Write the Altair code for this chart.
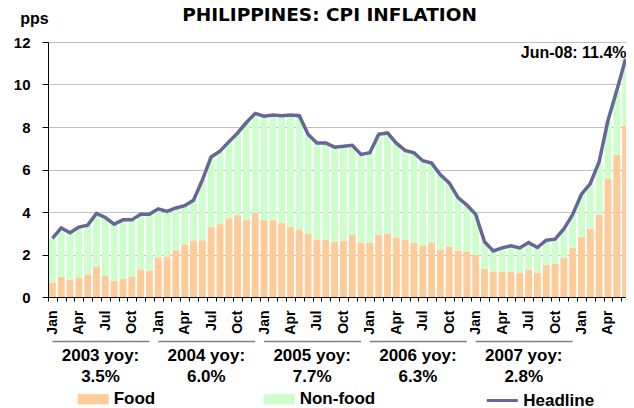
import altair as alt
import pandas as pd

FONT = "Liberation Sans"

month_names = ["Jan", "Feb", "Mar", "Apr", "May", "Jun",
               "Jul", "Aug", "Sep", "Oct", "Nov", "Dec"]
years = ["2003", "2004", "2005", "2006", "2007", "2008"]
months = [f"{m} {y}" for y in years for m in month_names][:66]

# Food contribution (pps), Jan-2003 .. Jun-2008
food = [
    0.68, 0.96, 0.82, 0.92, 1.06, 1.44, 1.01, 0.77, 0.87, 0.96, 1.30, 1.25,
    1.86, 1.91, 2.20, 2.48, 2.67, 2.67, 3.29, 3.43, 3.71, 3.85, 3.62, 3.95,
    3.62, 3.62, 3.48, 3.29, 3.18, 2.99, 2.71, 2.71, 2.61, 2.66, 2.94, 2.57,
    2.57, 2.94, 2.99, 2.80, 2.71, 2.57, 2.43, 2.57, 2.24, 2.38, 2.19, 2.14,
    1.96, 1.34, 1.20, 1.19, 1.19, 1.15, 1.29, 1.15, 1.52, 1.57, 1.85, 2.32,
    2.84, 3.22, 3.87, 5.57, 6.70, 8.06,
]
# Headline CPI inflation (% yoy)
headline = [
    2.76, 3.25, 3.02, 3.29, 3.38, 3.93, 3.74, 3.43, 3.63, 3.63, 3.89, 3.89,
    4.15, 4.03, 4.19, 4.30, 4.55, 5.50, 6.59, 6.86, 7.30, 7.72, 8.21, 8.64,
    8.51, 8.56, 8.53, 8.56, 8.53, 7.65, 7.25, 7.25, 7.05, 7.09, 7.14, 6.71,
    6.79, 7.66, 7.72, 7.24, 6.90, 6.79, 6.41, 6.30, 5.75, 5.37, 4.68, 4.33,
    3.89, 2.60, 2.17, 2.31, 2.41, 2.31, 2.56, 2.33, 2.67, 2.72, 3.20, 3.88,
    4.84, 5.34, 6.36, 8.31, 9.72, 11.20,
]

group_years = ["2003", "2004", "2005", "2006", "2007"]
group_yoy = ["3.5%", "6.0%", "7.7%", "6.3%", "2.8%"]

bar_series = ["Food", "Non-food"]
bar_colors = ["#FFCC99", "#CCFFCC"]
line_series = ["Headline"]
line_colors = ["#666699"]
last_label = "Jun-08: 11.4%"
quarter_months = ["Jan", "Apr", "Jul", "Oct"]
y_ticks = [0, 2, 4, 6, 8, 10, 12]

rows = []
for m, f, h in zip(months, food, headline):
    rows.append({"month": m, "series": "Food", "value": f, "order": 0})
    rows.append({"month": m, "series": "Non-food", "value": round(h - f, 3), "order": 1})
bars_df = pd.DataFrame(rows)
line_df = pd.DataFrame({"month": months, "value": headline, "series": line_series[0]})
groups_df = pd.DataFrame({
    "start": [f"Jan {y}" for y in group_years],
    "end": [f"Dec {y}" for y in group_years],
    "mid": [f"Jun {y}" for y in group_years],
    "head": [f"{y} yoy:" for y in group_years],
    "yoy": group_yoy,
})
ann_df = pd.DataFrame({"month": [months[-1]], "value": [headline[-1]], "label": [last_label]})

PLOT_W = 582
HALF_STEP = PLOT_W / len(months) / 2

x_scale = alt.Scale(type="band", domain=months, paddingInner=0.22, paddingOuter=0.11)
qlist = "[" + ",".join(f"'{q}'" for q in quarter_months) + "]"
x_axis = alt.Axis(
    title=None,
    labelExpr=f"indexof({qlist}, slice(datum.value, 0, 3)) >= 0 ? slice(datum.value, 0, 3) : ''",
    labelAngle=270, labelFont=FONT, labelFontSize=14, labelFontWeight="bold",
    labelColor="black", labelPadding=9, labelOverlap=False,
    tickSize=4, tickColor="black", domainColor="black",
    tickOffset=-HALF_STEP, labelOffset=HALF_STEP,
    grid=False,
)
y_scale = alt.Scale(domain=[0, 12], nice=False)
y_axis = alt.Axis(
    values=y_ticks, title="pps", titleAngle=0, titleAlign="center",
    titleBaseline="alphabetic", titleX=-14, titleY=-19, titleFont=FONT,
    titleFontSize=16, titleFontWeight="bold", titleColor="black",
    labelFont=FONT, labelFontSize=15, labelFontWeight="bold", labelColor="black",
    labelPadding=12, tickSize=6, tickColor="black", domainColor="black",
    grid=True, gridColor="#C0C0C0",
)

X = alt.X("month:N", scale=x_scale, axis=x_axis, sort=months)
Y = alt.Y("value:Q", scale=y_scale, axis=y_axis)

bars = alt.Chart(bars_df).mark_bar(strokeWidth=0).encode(
    x=X,
    y=alt.Y("value:Q", scale=y_scale, axis=y_axis, stack="zero"),
    fill=alt.Fill(
        "series:N",
        scale=alt.Scale(domain=bar_series, range=bar_colors),
        legend=alt.Legend(
            title=None, orient="none", legendX=29.7, legendY=341.5,
            direction="horizontal", symbolType="M-1,-0.33H1V0.33H-1Z",
            symbolSize=961, symbolStrokeWidth=0,
            labelFont=FONT, labelFontSize=17, labelFontWeight="bold",
            labelColor="black", labelOffset=5, columnPadding=108,
        ),
    ),
    order=alt.Order("order:Q"),
)

line = alt.Chart(line_df).mark_line(strokeWidth=3.5).encode(
    x=X,
    y=Y,
    stroke=alt.Stroke(
        "series:N",
        scale=alt.Scale(domain=line_series, range=line_colors),
        legend=alt.Legend(
            title=None, orient="none", legendX=437.3, legendY=341.5,
            symbolType="stroke", symbolSize=961, symbolStrokeWidth=3,
            labelFont=FONT, labelFontSize=17, labelFontWeight="bold",
            labelColor="black", labelOffset=4,
        ),
    ),
)

ann = alt.Chart(ann_df).mark_text(
    align="right", baseline="middle", dx=1, dy=-6,
    font=FONT, fontSize=16, fontWeight="bold", color="black",
).encode(x=X, y=Y, text="label:N")

rules = alt.Chart(groups_df).mark_rule(color="#808080", strokeWidth=1.5).encode(
    x=alt.X("start:N", scale=x_scale, axis=x_axis),
    x2="end:N",
    y=alt.value(299.5),
)

head = alt.Chart(groups_df).mark_text(
    font=FONT, fontSize=17, fontWeight="bold", color="black",
    align="center", baseline="middle", dx=4,
).encode(
    x=alt.X("mid:N", scale=x_scale, axis=x_axis),
    y=alt.value(313.7),
    text="head:N",
)

pct = alt.Chart(groups_df).mark_text(
    font=FONT, fontSize=17, fontWeight="bold", color="black",
    align="center", baseline="middle", dx=4,
).encode(
    x=alt.X("mid:N", scale=x_scale, axis=x_axis),
    y=alt.value(335.3),
    text="yoy:N",
)

chart = alt.layer(bars, line, rules, head, pct, ann).properties(
    width=PLOT_W,
    height=255,
    padding={"left": 40, "top": 34, "right": -4, "bottom": 111},
    autosize=alt.AutoSizeParams(type="none"),
    title=alt.TitleParams(
        "PHILIPPINES: CPI INFLATION", font="DejaVu Sans", fontSize=18.5,
        fontWeight="bold", color="black", anchor="middle", frame="group",
        dx=-9.5, dy=18,
    ),
).configure_view(stroke=None)

chart.save("out.html", embed_options={"renderer": "svg", "actions": False})
